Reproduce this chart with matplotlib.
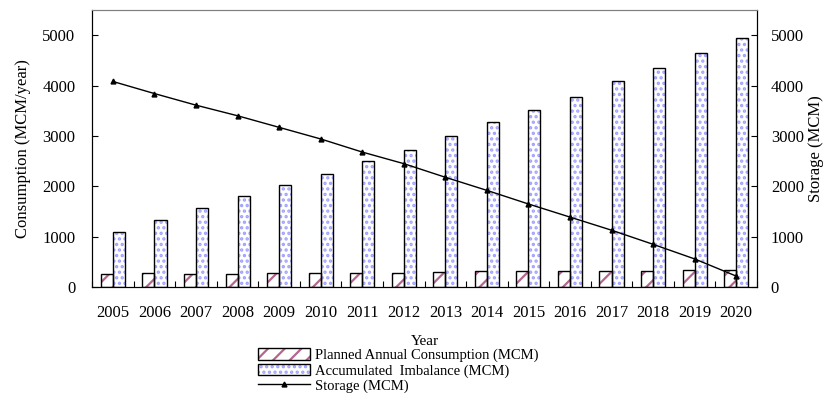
import numpy as np
import matplotlib.pyplot as plt
from matplotlib.patches import Patch
from matplotlib.lines import Line2D

plt.rcParams['font.family'] = ['Liberation Serif', 'DejaVu Serif']
plt.rcParams['font.size'] = 10.5
plt.rcParams['hatch.linewidth'] = 1.6

years = [str(y) for y in range(2005, 2021)]
planned = [270, 290, 270, 270, 290, 290, 290, 290, 310, 330, 330, 330, 330, 330, 350, 350]
imbalance = [1100, 1340, 1580, 1800, 2020, 2240, 2510, 2730, 3000, 3270, 3520, 3780, 4080, 4340, 4640, 4950]
storage = [4080, 3840, 3610, 3400, 3170, 2940, 2680, 2450, 2180, 1920, 1650, 1390, 1130, 850, 560, 220]

pink = '#b5668f'
blue = '#a0a0ff'

fig = plt.figure(figsize=(8.3, 4.12), dpi=100)
ax = fig.add_axes([0.111, 0.303, 0.801, 0.673])
ax2 = ax.twinx()

x = np.arange(len(years))
w = 0.29

# hatched fills, then black outlines on top
ax.bar(x - w / 2, planned, w, color='white', edgecolor=pink, hatch='//', lw=0, zorder=2)
ax.bar(x - w / 2, planned, w, fill=False, edgecolor='black', lw=1.0, zorder=3)
ax.bar(x + w / 2, imbalance, w, color='white', edgecolor=blue, hatch='...', lw=0, zorder=2)
ax.bar(x + w / 2, imbalance, w, fill=False, edgecolor='black', lw=1.0, zorder=3)

ax2.plot(x, storage, color='black', lw=1.0, marker='^', ms=3.5)

for a in (ax, ax2):
    a.set_ylim(0, 5500)
    a.set_yticks(range(0, 5001, 1000))
ax.tick_params(axis='y', direction='in', length=4, labelsize=12, pad=12)
ax2.tick_params(axis='y', direction='in', length=4, labelsize=12, pad=10)
ax.set_xlim(-0.5, len(years) - 0.5)
ax.set_xticks(np.arange(len(years) + 1) - 0.5)
ax.set_xticklabels([])
ax.tick_params(axis='x', which='major', direction='in', length=4)
ax.set_xticks(x, minor=True)
ax.set_xticklabels(years, minor=True)
ax.tick_params(axis='x', which='minor', length=0, pad=13, labelsize=12)

for a in (ax, ax2):
    a.spines['top'].set_color('#808080')

ax.set_ylabel('Consumption (MCM/year)', fontsize=12, labelpad=8)
ax2.set_ylabel('Storage (MCM)', fontsize=12, labelpad=3)
ax.set_xlabel('Year', fontsize=11, labelpad=10)

handles = [
    (Patch(facecolor='white', edgecolor=pink, hatch='//', lw=0),
     Patch(fill=False, edgecolor='black', lw=1.0)),
    (Patch(facecolor='white', edgecolor=blue, hatch='...', lw=0),
     Patch(fill=False, edgecolor='black', lw=1.0)),
    Line2D([], [], color='black', lw=1.0, marker='^', ms=3.5),
]
labels = ['Planned Annual Consumption (MCM)', 'Accumulated  Imbalance (MCM)', 'Storage (MCM)']
fig.legend(handles, labels, loc='upper left', bbox_to_anchor=(0.302, 0.172),
           frameon=False, handlelength=3.6, handleheight=0.8, labelspacing=0.1,
           handletextpad=0.3, borderpad=0)

fig.savefig('out.png', dpi=100)
